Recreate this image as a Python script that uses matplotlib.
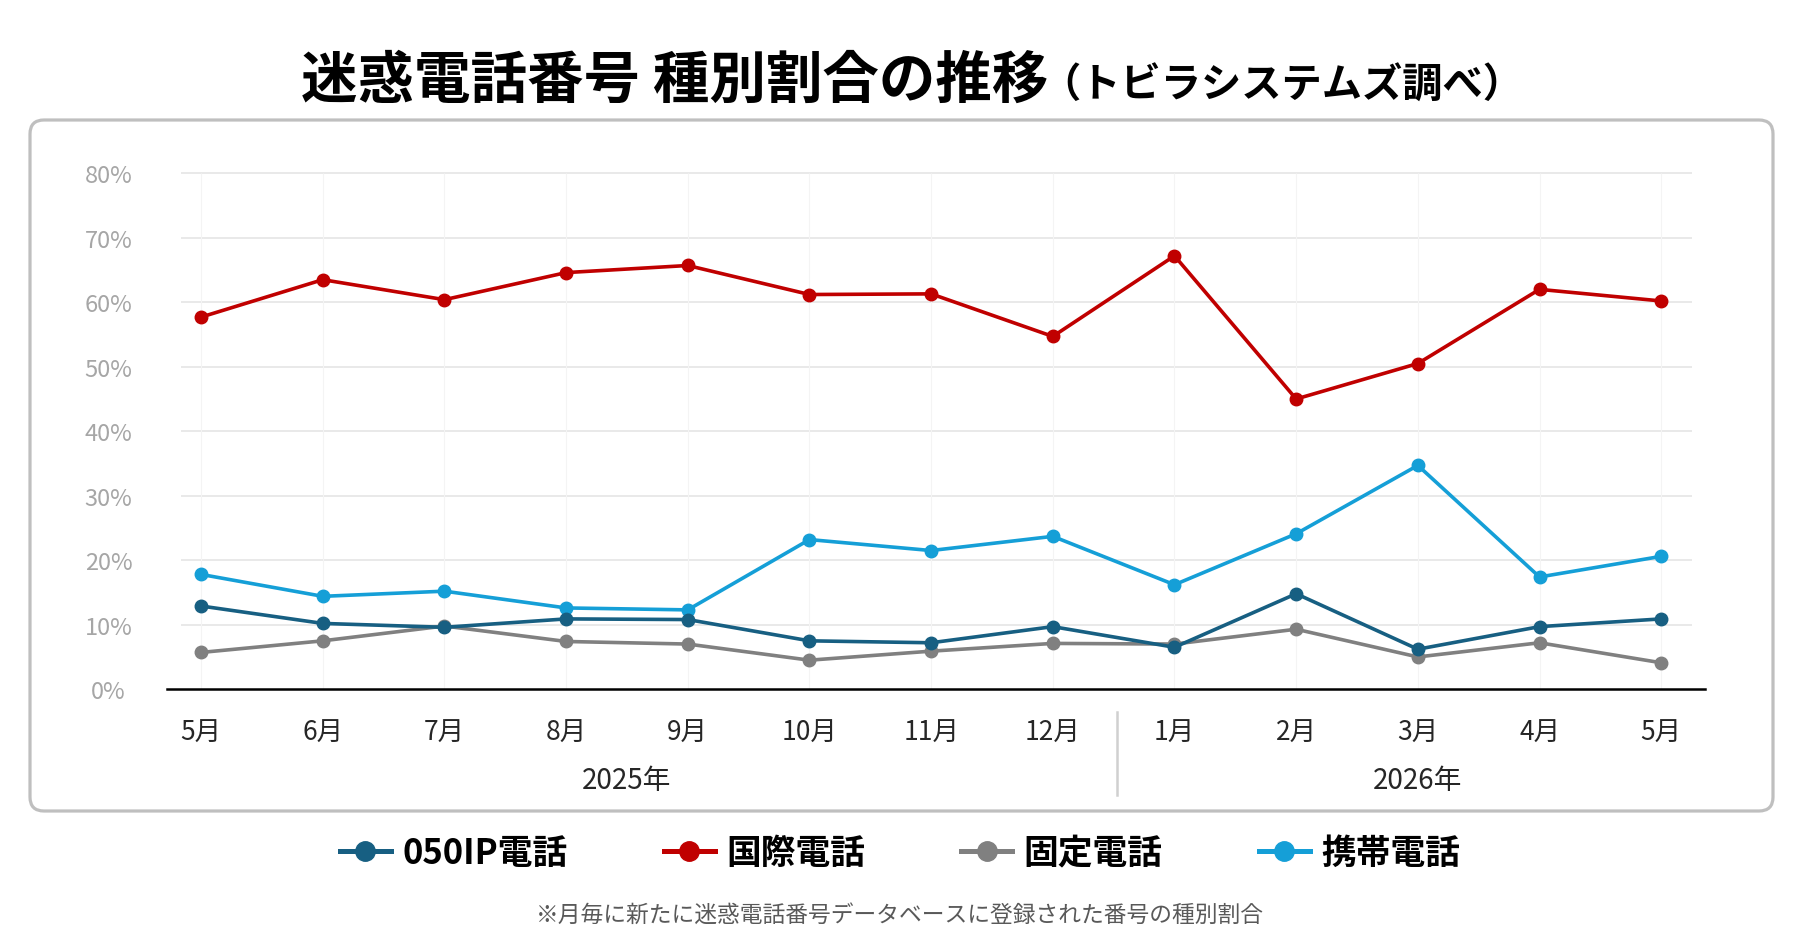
import matplotlib.pyplot as plt
from matplotlib.lines import Line2D
from matplotlib.patches import FancyBboxPatch
import matplotlib.transforms as mtransforms

plt.rcParams['font.family'] = ['Noto Sans CJK JP', 'DejaVu Sans']

# data (share in %)
months = ['5月', '6月', '7月', '8月', '9月', '10月', '11月', '12月',
          '1月', '2月', '3月', '4月', '5月']
years = ['2025年', '2026年']
ip050 = [12.9, 10.2, 9.6, 10.9, 10.8, 7.5, 7.2, 9.7, 6.5, 14.8, 6.2, 9.7, 10.9]
kokusai = [57.7, 63.5, 60.4, 64.6, 65.7, 61.2, 61.3, 54.7, 67.2, 45.0, 50.5, 62.0, 60.2]
kotei = [5.7, 7.5, 9.8, 7.4, 7.0, 4.5, 5.9, 7.1, 7.0, 9.3, 5.0, 7.2, 4.1]
keitai = [17.8, 14.4, 15.2, 12.6, 12.3, 23.2, 21.5, 23.7, 16.2, 24.1, 34.7, 17.4, 20.6]

names = ['050IP電話', '国際電話', '固定電話', '携帯電話']
colors = ['#175f82', '#c00000', '#808080', '#159fd7']

x = list(range(len(months)))

fig = plt.figure(figsize=(18, 9.45), dpi=100)

# rounded frame around the chart
box = FancyBboxPatch((0.30, 1.33), 17.43, 6.91,
                     boxstyle='round,pad=0,rounding_size=0.14',
                     transform=fig.dpi_scale_trans, facecolor='white',
                     edgecolor='#bfbfbf', linewidth=2.3, zorder=0)
fig.add_artist(box)

ax = fig.add_axes([0.09278, 0.26963, 0.85444, 0.5596])
ax.set_facecolor('none')
ax.set_xlim(-0.28, 12.36)
ax.set_ylim(0, 82)

# grid
ax.hlines(range(10, 90, 10), -0.167, 12.257, color='#e3e3e3', lw=1.1, zorder=1)
ax.vlines(x, 0, 80, color='#f4f4f4', lw=0.8, zorder=1)

# lines
series = [kotei, keitai, kokusai, ip050]
order = [2, 3, 1, 0]
for s, i in zip(series, order):
    ax.plot(x, s, color=colors[i], lw=2.6, marker='o', ms=9,
            zorder=3, clip_on=False)

for side in ['top', 'right', 'left']:
    ax.spines[side].set_visible(False)
ax.spines['bottom'].set_color('black')
ax.spines['bottom'].set_linewidth(1.8)

ax.set_yticks(range(0, 90, 10))
ax.set_yticklabels([f'{v}%' for v in range(0, 90, 10)])
ax.tick_params(axis='y', length=0, pad=42, labelsize=17, labelcolor='#a6a6a6')
for lab in ax.get_yticklabels():
    lab.set_ha('center')

ax.set_xticks(x)
ax.set_xticklabels(months)
ax.tick_params(axis='x', length=0, pad=21, labelsize=19, labelcolor='#262626')

# year labels and separator
trans = mtransforms.blended_transform_factory(ax.transData, ax.transAxes)
ax.text(3.5, -0.172, years[0], transform=trans, ha='center', va='center',
        fontsize=20, color='#262626')
ax.text(10, -0.172, years[1], transform=trans, ha='center', va='center',
        fontsize=20, color='#262626')
ax.plot([7.53, 7.53], [-0.043, -0.201], transform=trans, color='#d0d0d0',
        lw=1.8, clip_on=False)

# title
fig.text(0.167, 0.897, '迷惑電話番号 種別割合の推移', fontsize=40.7,
         fontweight='bold', ha='left', va='baseline')
fig.text(0.578, 0.897, '（トビラシステムズ調べ）', fontsize=29,
         fontweight='bold', ha='left', va='baseline')

# legend
handles = [Line2D([0], [0], color=c, lw=3.6, marker='o', ms=14) for c in colors]
fig.legend(handles, names, loc='center', bbox_to_anchor=(0.5, 0.097),
           ncol=4, frameon=False, handlelength=1.47, handletextpad=0.33,
           columnspacing=2.77, prop={'size': 25, 'weight': 'bold'})

# footnote
fig.text(0.5, 0.031, '※月毎に新たに迷惑電話番号データベースに登録された番号の種別割合',
         ha='center', va='center', fontsize=16.4, color='#595959')

fig.savefig('out.png', dpi=100)
